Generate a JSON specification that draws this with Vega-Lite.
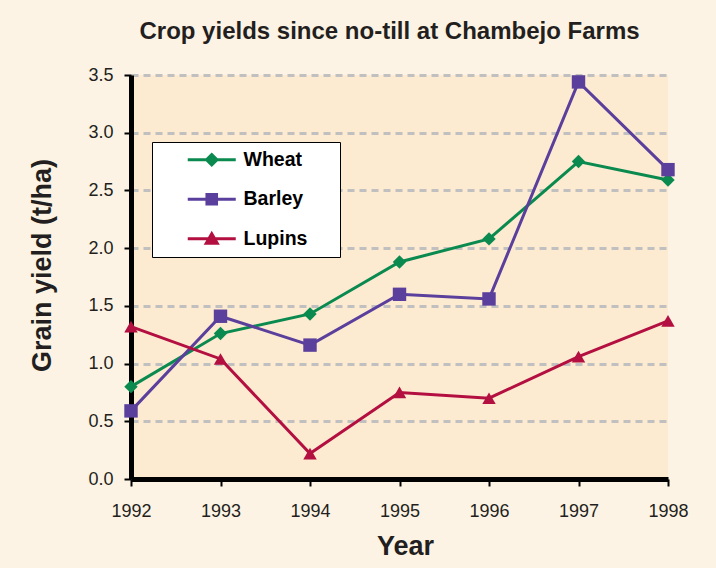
{
  "$schema": "https://vega.github.io/schema/vega-lite/v6.json",
  "width": 537,
  "height": 404,
  "autosize": "none",
  "padding": {"left": 131, "top": 75, "right": 48, "bottom": 89},
  "background": "#fdf3e4",
  "title": {
    "text": "Crop yields since no-till at Chambejo Farms",
    "font": "Liberation Sans",
    "fontSize": 24,
    "fontWeight": "bold",
    "color": "#231f20",
    "anchor": "middle",
    "dx": -10,
    "offset": 22
  },
  "data": {
    "values": [
      {"year": 1992, "crop": "Wheat", "yield": 0.80},
      {"year": 1993, "crop": "Wheat", "yield": 1.26},
      {"year": 1994, "crop": "Wheat", "yield": 1.43},
      {"year": 1995, "crop": "Wheat", "yield": 1.88},
      {"year": 1996, "crop": "Wheat", "yield": 2.08},
      {"year": 1997, "crop": "Wheat", "yield": 2.75},
      {"year": 1998, "crop": "Wheat", "yield": 2.59},
      {"year": 1992, "crop": "Barley", "yield": 0.59},
      {"year": 1993, "crop": "Barley", "yield": 1.41},
      {"year": 1994, "crop": "Barley", "yield": 1.16},
      {"year": 1995, "crop": "Barley", "yield": 1.60},
      {"year": 1996, "crop": "Barley", "yield": 1.56},
      {"year": 1997, "crop": "Barley", "yield": 3.44},
      {"year": 1998, "crop": "Barley", "yield": 2.68},
      {"year": 1992, "crop": "Lupins", "yield": 1.32},
      {"year": 1993, "crop": "Lupins", "yield": 1.04},
      {"year": 1994, "crop": "Lupins", "yield": 0.22},
      {"year": 1995, "crop": "Lupins", "yield": 0.75},
      {"year": 1996, "crop": "Lupins", "yield": 0.70},
      {"year": 1997, "crop": "Lupins", "yield": 1.06},
      {"year": 1998, "crop": "Lupins", "yield": 1.37}
    ]
  },
  "encoding": {
    "x": {
      "field": "year",
      "type": "quantitative",
      "scale": {"domain": [1992, 1998], "nice": false, "zero": false},
      "axis": {
        "values": [1992, 1993, 1994, 1995, 1996, 1997, 1998],
        "format": "d",
        "title": "Year",
        "titleX": 274,
        "grid": false,
        "labelFlush": false,
        "labelOverlap": false,
        "domainColor": "#000000",
        "domainWidth": 5,
        "tickColor": "#000000",
        "tickWidth": 2,
        "tickSize": 7,
        "labelPadding": 16,
        "labelFont": "Liberation Sans",
        "labelFontSize": 18,
        "labelColor": "#231f20",
        "titleFont": "Liberation Sans",
        "titleFontSize": 27,
        "titleFontWeight": "bold",
        "titleColor": "#231f20",
        "titlePadding": 13
      }
    },
    "y": {
      "field": "yield",
      "type": "quantitative",
      "scale": {"domain": [0, 3.5], "nice": false},
      "axis": {
        "values": [0, 0.5, 1, 1.5, 2, 2.5, 3, 3.5],
        "format": ".1f",
        "title": "Grain yield (t/ha)",
        "grid": true,
        "gridColor": "#c0c0c0",
        "gridWidth": 3,
        "gridDash": [7, 5],
        "domainColor": "#000000",
        "domainWidth": 5,
        "tickColor": "#000000",
        "tickWidth": 2,
        "tickSize": 7,
        "labelPadding": 11,
        "labelFont": "Liberation Sans",
        "labelFontSize": 18,
        "labelColor": "#231f20",
        "titleFont": "Liberation Sans",
        "titleFontSize": 27,
        "titleFontWeight": "bold",
        "titleColor": "#231f20",
        "titlePadding": 31,
        "titleY": 190
      }
    },
    "color": {
      "field": "crop",
      "type": "nominal",
      "scale": {"domain": ["Wheat", "Barley", "Lupins"], "range": ["#0b8a50", "#5a3f9c", "#b30f40"]},
      "legend": null
    }
  },
  "layer": [
    {
      "mark": {"type": "line", "strokeWidth": 3}
    },
    {
      "mark": {"type": "point", "filled": true, "opacity": 1, "size": 180},
      "encoding": {
        "shape": {
          "field": "crop",
          "type": "nominal",
          "scale": {"domain": ["Wheat", "Barley", "Lupins"], "range": ["diamond", "square", "triangle-up"]},
          "legend": null
        }
      }
    },
    {
      "mark": {"type": "point", "filled": true, "opacity": 0, "size": 10},
      "encoding": {
        "color": {
          "field": "crop",
          "type": "nominal",
          "scale": {"domain": ["Wheat", "Barley", "Lupins"], "range": ["#0b8a50", "#5a3f9c", "#b30f40"]},
          "legend": {
            "title": " ",
            "titleOrient": "right",
            "titlePadding": 25,
            "orient": "none",
            "legendX": 21,
            "legendY": 67,
            "padding": 8,
            "fillColor": "#ffffff",
            "strokeColor": "#000000",
            "labelFont": "Liberation Sans",
            "labelFontSize": 19.5,
            "labelFontWeight": "bold",
            "labelColor": "#000000",
            "labelOffset": 22,
            "symbolOffset": 42,
            "symbolSize": 196,
            "symbolStrokeWidth": 0,
            "symbolOpacity": 1,
            "rowPadding": 18.5
          }
        },
        "shape": {
          "field": "crop",
          "type": "nominal",
          "scale": {
            "domain": ["Wheat", "Barley", "Lupins"],
            "range": [
              "M-3.43,-0.22L3.43,-0.22L3.43,0.22L-3.43,0.22Z M0,-1.05L1.05,0L0,1.05L-1.05,0Z",
              "M-3.43,-0.22L3.43,-0.22L3.43,0.22L-3.43,0.22Z M-0.9,-0.9L0.9,-0.9L0.9,0.9L-0.9,0.9Z",
              "M-3.43,-0.22L3.43,-0.22L3.43,0.22L-3.43,0.22Z M0,-1.15L1.15,0.85L-1.15,0.85Z"
            ]
          },
          "legend": {
            "title": " ",
            "titleOrient": "right",
            "titlePadding": 25,
            "orient": "none",
            "legendX": 21,
            "legendY": 67,
            "padding": 8,
            "fillColor": "#ffffff",
            "strokeColor": "#000000",
            "labelFont": "Liberation Sans",
            "labelFontSize": 19.5,
            "labelFontWeight": "bold",
            "labelColor": "#000000",
            "labelOffset": 22,
            "symbolOffset": 42,
            "symbolSize": 196,
            "symbolStrokeWidth": 0,
            "symbolOpacity": 1,
            "rowPadding": 18.5
          }
        }
      }
    }
  ],
  "resolve": {
    "scale": {"shape": "independent"},
    "legend": {"color": "independent", "shape": "independent"}
  },
  "config": {
    "view": {"fill": "#fdebd1", "stroke": null}
  }
}
